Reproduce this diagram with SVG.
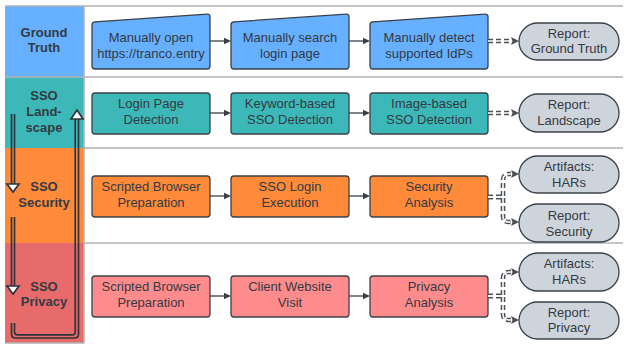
<svg xmlns="http://www.w3.org/2000/svg" width="625" height="345" viewBox="0 0 625 345">
<style>
.lane{stroke:#b3b3b3;stroke-width:1.5;fill:none}
.hd{font-family:"Liberation Sans",Arial,sans-serif;font-size:13px;font-weight:bold;fill:#333a42;text-anchor:middle}
.t{font-family:"Liberation Sans",Arial,sans-serif;font-size:13px;fill:#333a42;text-anchor:middle}
.nd{stroke:#3a414a;stroke-width:1.3}
.blue{fill:#66b0ff}
.teal{fill:#3db8b8}
.orange{fill:#ff8a3a}
.pink{fill:#ff8c8c}
.rep{fill:#ced4db}
.sol{stroke:#3a414a;stroke-width:1.3;fill:none}
.dso{stroke:#4a5058;stroke-width:4.6;fill:none;stroke-dasharray:5 3}
.dsi{stroke:#ffffff;stroke-width:1.6;fill:none;stroke-dasharray:5 3}
.dbl{stroke:#2f353d;stroke-width:1.7;fill:none}
.hh{fill:#ffffff;stroke:#2f353d;stroke-width:1.7;stroke-linejoin:miter}
</style>
<defs>
<marker id="ah" markerUnits="userSpaceOnUse" markerWidth="10" markerHeight="10" refX="0" refY="4" orient="auto">
<path d="M0,0.8 L7,4 L0,7.2 Z" fill="#3a414a"/>
</marker>
<marker id="dh" markerUnits="userSpaceOnUse" markerWidth="12" markerHeight="12" refX="0" refY="5" orient="auto">
<path d="M0,1 L8,5 L0,9 L1.5,5 Z" fill="#4a5058"/>
</marker>
</defs>

<!-- lanes -->
<g id="lanes">
<rect x="5" y="6" width="617" height="337" fill="#ffffff"/>
<rect x="5" y="6" width="79" height="71" fill="#66b0ff"/>
<rect x="5" y="77" width="79" height="71" fill="#3db8b8"/>
<rect x="5" y="148" width="79" height="95" fill="#ff8a3a"/>
<rect x="5" y="243" width="79" height="100" fill="#e86b6b"/>
<path class="lane" d="M5,6 H623 M5,77 H623 M84,148 H623 M84,243 H623 M84,6 V343 M5,343 H84"/>
</g>

<g id="lane-ground-truth"><text class="hd" x="44" y="37">Ground</text><text class="hd" x="44" y="52">Truth</text></g>
<g id="lane-landscape"><text class="hd" x="44" y="100">SSO</text><text class="hd" x="44" y="116">Land-</text><text class="hd" x="44" y="132">scape</text></g>
<g id="lane-security"><text class="hd" x="44" y="191">SSO</text><text class="hd" x="44" y="207">Security</text></g>
<g id="lane-privacy"><text class="hd" x="44" y="291">SSO</text><text class="hd" x="44" y="306">Privacy</text></g>

<!-- header arrows -->
<g id="flow-arrows">
<path class="dbl" d="M11.5,114 V184 M14.5,114 V184"/>
<path class="hh" d="M7,184 H19 L13,192 Z"/>
<path class="dbl" d="M11.5,217 V286 M14.5,217 V286"/>
<path class="hh" d="M7,286 H19 L13,294 Z"/>
<path class="dbl" d="M11.5,323 V334 Q11.5,338 15.5,338 H74.5 Q78.5,338 78.5,334 V119 M14.5,323 V332 Q14.5,334.8 17.5,334.8 H72.5 Q75.2,334.8 75.2,332 V119"/>
<path class="hh" d="M71,119 H83 L77,110 Z"/>
</g>

<!-- row 1 -->
<g id="gt1"><path class="nd blue" d="M92,25 Q92,22 95,21.8 L207,14.2 Q210,14 210,17 L210,66 Q210,69 207,69 L95,69 Q92,69 92,66 Z"/><text class="t" x="151" y="42">Manually open</text><text class="t" x="151" y="58">https://tranco.entry</text></g>
<g id="gt2"><path class="nd blue" d="M231,25 Q231,22 234,21.8 L346,14.2 Q349,14 349,17 L349,66 Q349,69 346,69 L234,69 Q231,69 231,66 Z"/><text class="t" x="290" y="42">Manually search</text><text class="t" x="290" y="58">login page</text></g>
<g id="gt3"><path class="nd blue" d="M370,25 Q370,22 373,21.8 L485,14.2 Q488,14 488,17 L488,66 Q488,69 485,69 L373,69 Q370,69 370,66 Z"/><text class="t" x="429" y="42">Manually detect</text><text class="t" x="429" y="58">supported IdPs</text></g>
<g id="gt-report"><rect class="nd rep" x="519" y="23" width="100" height="37" rx="18.5"/><text class="t" x="569" y="38">Report:</text><text class="t" x="569" y="53">Ground Truth</text></g>

<!-- row 2 -->
<g id="ls1"><rect class="nd teal" x="92" y="93" width="118" height="41" rx="3"/><text class="t" x="151" y="108">Login Page</text><text class="t" x="151" y="124">Detection</text></g>
<g id="ls2"><rect class="nd teal" x="231" y="93" width="118" height="41" rx="3"/><text class="t" x="290" y="108">Keyword-based</text><text class="t" x="290" y="124">SSO Detection</text></g>
<g id="ls3"><rect class="nd teal" x="370" y="93" width="118" height="41" rx="3"/><text class="t" x="429" y="108">Image-based</text><text class="t" x="429" y="124">SSO Detection</text></g>
<g id="ls-report"><rect class="nd rep" x="519" y="94" width="100" height="38" rx="19"/><text class="t" x="569" y="109">Report:</text><text class="t" x="569" y="125">Landscape</text></g>

<!-- row 3 -->
<g id="sec1"><rect class="nd orange" x="92" y="176" width="118" height="41" rx="3"/><text class="t" x="151" y="191">Scripted Browser</text><text class="t" x="151" y="207">Preparation</text></g>
<g id="sec2"><rect class="nd orange" x="231" y="176" width="118" height="41" rx="3"/><text class="t" x="290" y="191">SSO Login</text><text class="t" x="290" y="207">Execution</text></g>
<g id="sec3"><rect class="nd orange" x="370" y="176" width="118" height="41" rx="3"/><text class="t" x="429" y="191">Security</text><text class="t" x="429" y="207">Analysis</text></g>
<g id="sec-har"><rect class="nd rep" x="519" y="156" width="100" height="37" rx="18.5"/><text class="t" x="569" y="171">Artifacts:</text><text class="t" x="569" y="187">HARs</text></g>
<g id="sec-report"><rect class="nd rep" x="519" y="204" width="100" height="38" rx="19"/><text class="t" x="569" y="220">Report:</text><text class="t" x="569" y="236">Security</text></g>

<!-- row 4 -->
<g id="pr1"><rect class="nd pink" x="92" y="276" width="118" height="41" rx="3"/><text class="t" x="151" y="291">Scripted Browser</text><text class="t" x="151" y="307">Preparation</text></g>
<g id="pr2"><rect class="nd pink" x="231" y="276" width="118" height="41" rx="3"/><text class="t" x="290" y="291">Client Website</text><text class="t" x="290" y="307">Visit</text></g>
<g id="pr3"><rect class="nd pink" x="370" y="276" width="118" height="41" rx="3"/><text class="t" x="429" y="291">Privacy</text><text class="t" x="429" y="307">Analysis</text></g>
<g id="pr-har"><rect class="nd rep" x="519" y="253" width="100" height="38" rx="19"/><text class="t" x="569" y="268">Artifacts:</text><text class="t" x="569" y="284">HARs</text></g>
<g id="pr-report"><rect class="nd rep" x="519" y="302" width="100" height="37" rx="18.5"/><text class="t" x="569" y="317">Report:</text><text class="t" x="569" y="332">Privacy</text></g>

<!-- connectors -->
<g id="connectors">
<path class="sol" d="M210,41 H224" marker-end="url(#ah)"/>
<path class="sol" d="M349,41 H363" marker-end="url(#ah)"/>
<path class="sol" d="M210,113 H224" marker-end="url(#ah)"/>
<path class="sol" d="M349,113 H363" marker-end="url(#ah)"/>
<path class="sol" d="M210,196 H224" marker-end="url(#ah)"/>
<path class="sol" d="M349,196 H363" marker-end="url(#ah)"/>
<path class="sol" d="M210,296 H224" marker-end="url(#ah)"/>
<path class="sol" d="M349,296 H363" marker-end="url(#ah)"/>

<path class="dso" d="M488,41 H511" marker-end="url(#dh)"/><path class="dsi" d="M488,41 H511"/>
<path class="dso" d="M488,113 H511" marker-end="url(#dh)"/><path class="dsi" d="M488,113 H511"/>

<path class="dso" d="M488,197 H503 V180 Q503,174 509,174 H511" marker-end="url(#dh)"/>
<path class="dso" d="M488,197 H503 V216 Q503,222 509,222 H511" marker-end="url(#dh)"/>
<path class="dsi" d="M488,197 H503 V180 Q503,174 509,174 H511"/>
<path class="dsi" d="M488,197 H503 V216 Q503,222 509,222 H511"/>

<path class="dso" d="M488,296 H503 V278 Q503,272 509,272 H511" marker-end="url(#dh)"/>
<path class="dso" d="M488,296 H503 V314 Q503,320 509,320 H511" marker-end="url(#dh)"/>
<path class="dsi" d="M488,296 H503 V278 Q503,272 509,272 H511"/>
<path class="dsi" d="M488,296 H503 V314 Q503,320 509,320 H511"/>
</g>
</svg>
